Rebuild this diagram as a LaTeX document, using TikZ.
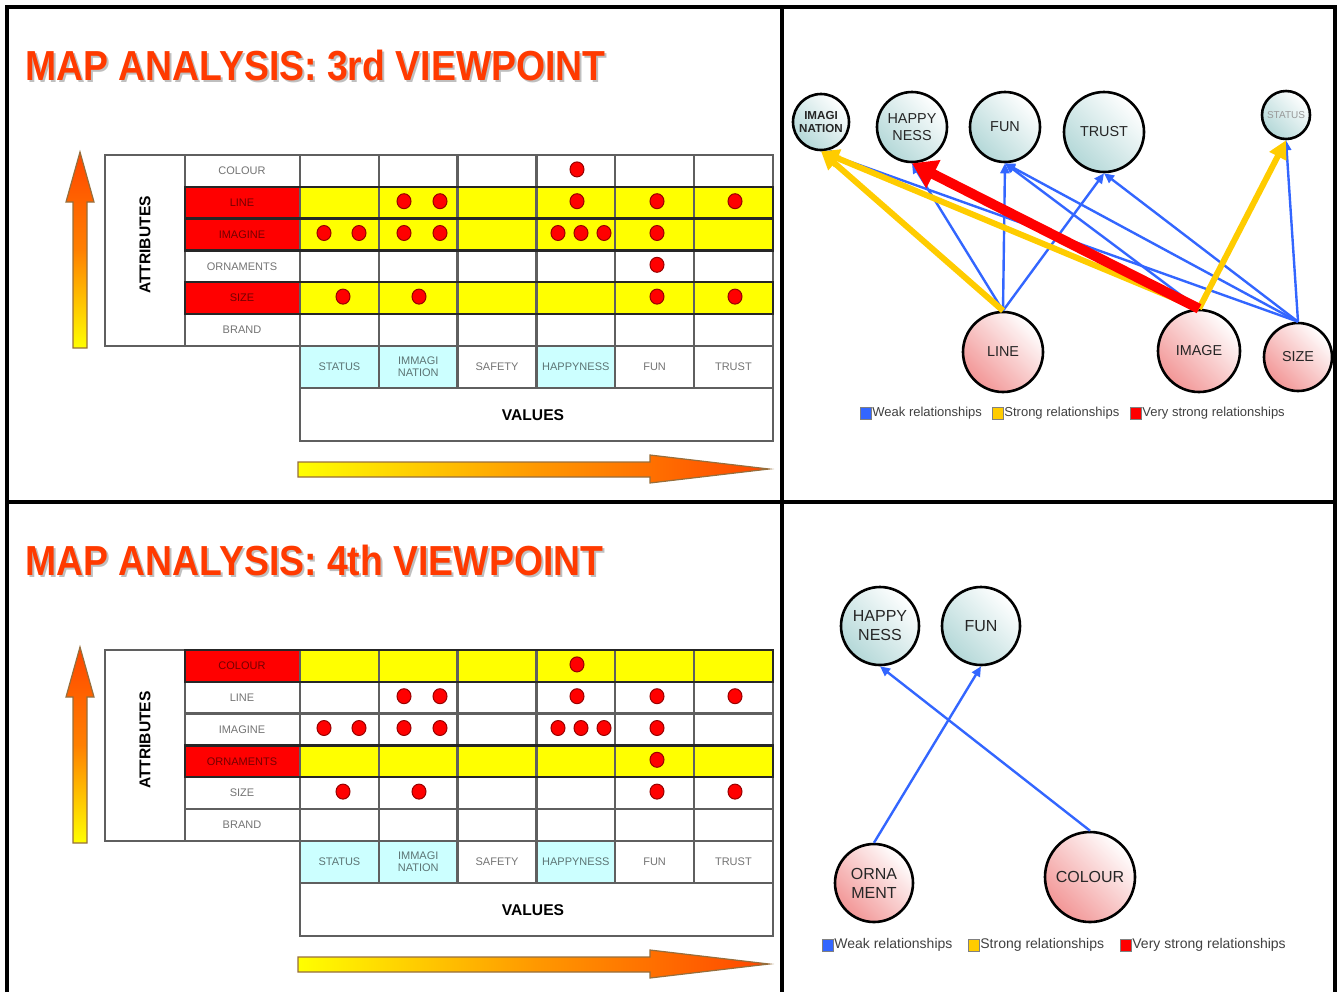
\documentclass[tikz,border=0pt]{standalone}
\usepackage{fontspec}
\setmainfont{Liberation Sans}
\usepackage{graphicx}
\usetikzlibrary{arrows.meta}

\definecolor{titlered}{RGB}{255,58,0}
\definecolor{cellred}{RGB}{255,0,0}
\definecolor{cellyellow}{RGB}{255,255,0}
\definecolor{cellcyan}{RGB}{204,255,255}
\definecolor{gridgray}{RGB}{95,95,95}
\definecolor{weakblue}{RGB}{51,102,255}
\definecolor{strongyellow}{RGB}{255,204,0}
\definecolor{vstrongred}{RGB}{255,0,0}
\definecolor{valuecyan}{RGB}{180,216,216}
\definecolor{attrpink}{RGB}{242,150,150}
\definecolor{arrowedge}{RGB}{150,110,60}
\definecolor{arroworange}{RGB}{255,70,0}

\begin{document}
\begin{tikzpicture}[x=0.5pt, y=-0.5pt,
    frame/.style={line width=1.6pt, black},
    title/.style={anchor=base west, inner sep=0pt, text=titlered,
      font=\fontsize{21}{21}\selectfont\bfseries},
    titleshadow/.style={title, text=black!25},
    grid/.style={draw=gridgray, line width=1.2pt},
    tablabel/.style={inner sep=0pt, text=black, text opacity=0.55, align=center,
      font=\fontsize{5.5}{6}\selectfont},
    headlabel/.style={inner sep=0pt, font=\fontsize{7.8}{8}\selectfont\bfseries},
    dot/.style={fill=cellred, draw={rgb,255:red,150;green,0;blue,0}, line width=0.5pt},
    valnode/.style={circle, draw=black, line width=1.3pt, inner sep=0pt,
      align=center, top color=white, bottom color=valuecyan, shading angle=-45,
      text=black!85, font=\fontsize{7.2}{8.5}\selectfont},
    attrnode/.style={valnode, top color=white, bottom color=attrpink, shading angle=-45},
    weak/.style={draw=weakblue, line width=1.2pt, -{Triangle[length=5pt, width=4.5pt]}},
    strong/.style={draw=strongyellow, line width=3pt, -{Triangle[length=9pt, width=9pt]}},
    vstrong/.style={draw=vstrongred, line width=5pt, -{Triangle[length=12pt, width=15pt]}},
    legbox/.style={minimum width=5.5pt, minimum height=6pt, inner sep=0pt,
      draw=black!50, line width=0.4pt},
    legtext/.style={anchor=west, inner sep=0pt, text=black!75,
      font=\fontsize{6.5}{7}\selectfont},
  ]
  \useasboundingbox (0,0) rectangle (1339,992);

  % Tables of the two viewpoints
  \foreach \oy/\vp/\hl in {0/3rd/{2,3,5}, 495/4th/{1,4}} {
    \begin{scope}[shift={(0,\oy)}]
      % Title
      \node[titleshadow] (shadow\vp) at (27,82) {\scalebox{0.89}[1]{MAP ANALYSIS: \vp\ VIEWPOINT}};
      \node[title] (title\vp) at (25,80) {\scalebox{0.89}[1]{MAP ANALYSIS: \vp\ VIEWPOINT}};

      % Marked rows and value cells
      \foreach \r in \hl {
        \fill[cellred] (185,{155+31.8*(\r-1)}) rectangle (300,{155+31.8*\r});
        \fill[cellyellow] (300,{155+31.8*(\r-1)}) rectangle (773,{155+31.8*\r});
      }
      \foreach \c in {1,2,4}
        \fill[cellcyan] ({300+78.8*(\c-1)},346) rectangle ({300+78.8*\c},388);

      % Grid
      \draw[grid] (105,155) rectangle (185,346);
      \draw[grid] (185,155) rectangle (773,346);
      \foreach \r in {1,...,5}
        \draw[grid] (185,{155+31.8*\r}) -- (773,{155+31.8*\r});
      \foreach \c in {0,...,6}
        \draw[grid] ({300+78.8*\c},155) -- ({300+78.8*\c},388);
      \draw[grid] (300,346) rectangle (773,441);
      \draw[grid] (300,388) -- (773,388);
      \foreach \r in \hl
        \draw[black!85, line width=1.2pt] (185,{155+31.8*(\r-1)}) rectangle (773,{155+31.8*\r});

      % Labels
      \foreach \lab [count=\r] in {COLOUR,LINE,IMAGINE,ORNAMENTS,SIZE,BRAND}
        \node[tablabel] (attr\vp\r) at (242,{155+31.8*(\r-0.5)}) {\lab};
      \foreach \lab [count=\c] in {STATUS,IMMAGI\\NATION,SAFETY,HAPPYNESS,FUN,TRUST}
        \node[tablabel] (val\vp\c) at ({300+78.8*(\c-0.5)},367) {\lab};
      \node[headlabel, rotate=90] (attrhead\vp) at (145,245) {ATTRIBUTES};
      \node[headlabel] (valhead\vp) at (533,415) {VALUES};

      % Dots
      \foreach \dx/\r in {577/1, 404/2, 440/2, 577/2, 657/2, 735/2,
          324/3, 359/3, 404/3, 440/3, 558/3, 581/3, 604/3, 657/3,
          657/4, 343/5, 419/5, 657/5, 735/5}
        \filldraw[dot] (\dx,{155+31.8*(\r-0.5)-1.5}) ellipse [x radius=7, y radius=7.5];

      % Arrows
      \shade[top color=arroworange, bottom color=cellyellow, middle color=orange,
          draw=arrowedge, line width=0.6pt]
        (73,348) -- (73,202) -- (66,202) -- (80,152) -- (94,202) -- (87,202) -- (87,348) -- cycle;
      \shade[left color=cellyellow, right color=arroworange, middle color=orange!80!yellow,
          draw=arrowedge, line width=0.6pt]
        (298,462) -- (650,462) -- (650,455) -- (769,469) -- (650,483) -- (650,477) -- (298,477) -- cycle;
    \end{scope}
  }

  % Relationships, 3rd viewpoint
  \node[valnode, minimum size=28pt, font=\fontsize{5.8}{6.5}\selectfont\bfseries] (imag) at (821,122) {IMAGI\\NATION};
  \node[valnode, minimum size=35pt] (happy) at (912,127) {HAPPY\\NESS};
  \node[valnode, minimum size=35pt] (fun) at (1005,127) {FUN};
  \node[valnode, minimum size=40pt] (trust) at (1104,132) {TRUST};
  \node[valnode, minimum size=24pt, font=\fontsize{5}{5}\selectfont, text=black!40] (status) at (1286,115) {STATUS};
  \node[attrnode, minimum size=40pt] (line) at (1003,352) {LINE};
  \node[attrnode, minimum size=41pt] (image) at (1199,351) {IMAGE};
  \node[attrnode, minimum size=34pt] (size) at (1298,357) {SIZE};

  \draw[weak] (line.north) -- (happy.south);
  \draw[weak] (line.north) -- (fun.south);
  \draw[weak] (line.north) -- (trust.south);
  \draw[weak] (image.north) -- (fun.south);
  \draw[weak] (size.north) -- (imag.south);
  \draw[weak] (size.north) -- (fun.south);
  \draw[weak] (size.north) -- (trust.south);
  \draw[weak] (size.north) -- (status.south);
  \draw[strong] (line.north) -- (imag.south);
  \draw[strong] (image.north) -- (imag.south);
  \draw[strong] (image.north) -- (status.south);
  \draw[vstrong] (image.north) -- (happy.south);

  % Legend
  \node[legbox, fill=weakblue] (weakbox1) at (866,413) {};
  \node[legtext] (weak1) at (872,413) {Weak relationships};
  \node[legbox, fill=strongyellow] (strongbox1) at (998,413) {};
  \node[legtext] (strong1) at (1004,413) {Strong relationships};
  \node[legbox, fill=vstrongred] (vstrongbox1) at (1136,413) {};
  \node[legtext] (vstrong1) at (1142,413) {Very strong relationships};

  % Relationships, 4th viewpoint
  \node[valnode, minimum size=39pt, font=\fontsize{8}{9.5}\selectfont] (happy2) at (880,626) {HAPPY\\NESS};
  \node[valnode, minimum size=39pt, font=\fontsize{8}{9.5}\selectfont] (fun2) at (981,626) {FUN};
  \node[attrnode, minimum size=39pt, font=\fontsize{8}{9.5}\selectfont] (ornament) at (874,883) {ORNA\\MENT};
  \node[attrnode, minimum size=45pt, font=\fontsize{8}{9.5}\selectfont] (colour) at (1090,877) {COLOUR};

  \draw[weak] (ornament.north) -- (fun2.south);
  \draw[weak] (colour.north) -- (happy2.south);

  % Legend
  \node[legbox, fill=weakblue] (weakbox2) at (828,945) {};
  \node[legtext, font=\fontsize{7}{7.5}\selectfont] (weak2) at (834,945) {Weak relationships};
  \node[legbox, fill=strongyellow] (strongbox2) at (974,945) {};
  \node[legtext, font=\fontsize{7}{7.5}\selectfont] (strong2) at (980,945) {Strong relationships};
  \node[legbox, fill=vstrongred] (vstrongbox2) at (1126,945) {};
  \node[legtext, font=\fontsize{7}{7.5}\selectfont] (vstrong2) at (1132,945) {Very strong relationships};

  % Frame
  \draw[frame] (7,992) -- (7,7) -- (1335,7) -- (1335,992);
  \draw[frame] (782,7) -- (782,992);
  \draw[frame] (7,502) -- (1335,502);
\end{tikzpicture}
\end{document}
